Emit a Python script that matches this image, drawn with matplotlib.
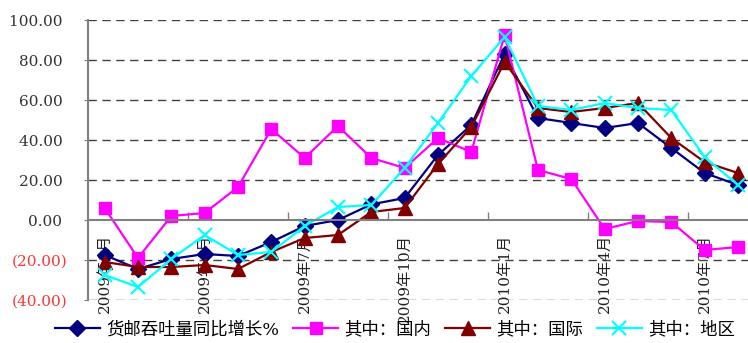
import matplotlib
matplotlib.use("Agg")
import matplotlib.pyplot as plt
from matplotlib.lines import Line2D

# Monthly series, Jan 2009 - Aug 2010 (year-on-year growth, %)
months = ["2009年1月", "2009年2月", "2009年3月", "2009年4月", "2009年5月", "2009年6月",
          "2009年7月", "2009年8月", "2009年9月", "2009年10月", "2009年11月", "2009年12月",
          "2010年1月", "2010年2月", "2010年3月", "2010年4月", "2010年5月", "2010年6月",
          "2010年7月", "2010年8月"]
total = [-17.5, -24.5, -19.5, -17, -18, -11, -3, 0, 7.8, 11, 32.5, 47.5,
         83, 51, 48.5, 46, 48.5, 36, 23.5, 17.5]
domestic = [6, -19, 2, 3.5, 16.5, 45.5, 31, 47, 31, 26, 41, 34,
            92.5, 25, 20.5, -4.5, -0.5, -1, -15, -13.5]
international = [-21, -23.5, -23.5, -22.5, -24.5, -16, -9, -7.5, 4, 6, 28, 46.5,
                 79, 56, 54, 56, 58.5, 41, 29, 23.5]
regional = [-27.5, -33.5, -19.5, -7.5, -17.5, -16, -3, 6.5, 7.5, 26, 48.5, 72,
            91.5, 57, 55, 58.5, 56, 55, 31.5, 17.5]
series_names = ["货邮吞吐量同比增长%", "其中：国内", "其中：国际", "其中：地区"]
y_ticks = [100, 80, 60, 40, 20, 0, -20, -40]

num_font = "DejaVu Serif"
mixed_font = ["DejaVu Serif", "Noto Sans CJK SC"]

W, H = 748, 343
fig = plt.figure(figsize=(W / 100, H / 100), dpi=100)
left_px, top_px, bottom_px = 88, 20, 300
cat_w = 33.33
ax = fig.add_axes([left_px / W, (H - bottom_px) / H,
                   cat_w * len(months) / W, (bottom_px - top_px) / H])

x = list(range(len(months)))
styles = [
    dict(color="#000080", marker="D", markersize=8),
    dict(color="#FF00FF", marker="s", markersize=9),
    dict(color="#800000", marker="^", markersize=10),
    dict(color="#00FFFF", marker="x", markersize=10, markeredgewidth=1.5),
]
data = [total, domestic, international, regional]
handles = []
for vals, st, name in zip(data, styles, series_names):
    ln, = ax.plot(x, vals, linewidth=1.6, label=name, clip_on=False, **st)
    handles.append(ln)

ax.set_xlim(-0.5, len(months) - 0.5)
ax.set_ylim(-40, 100)

# y axis: grid + accounting-style labels
ax.set_yticks(y_ticks)
labels = []
for v in y_ticks:
    if v < 0:
        labels.append(f"({abs(v):.2f})")
    else:
        labels.append(f"{v:.2f} ")
ax.set_yticklabels(labels, fontfamily=num_font, fontsize=11)
for lbl, v in zip(ax.get_yticklabels(), y_ticks):
    lbl.set_color("#FF3333" if v < 0 else "#333333")
ax.tick_params(axis="y", length=3, color="#808080", pad=12)
for v in y_ticks:
    if v != 0:
        ax.axhline(v, color="#404040", linestyle=(0, (6, 4)), linewidth=1, zorder=0)

# category axis crossing at zero
for s in ["top", "right"]:
    ax.spines[s].set_visible(False)
ax.spines["left"].set_color("#808080")
ax.spines["left"].set_linewidth(1.5)
ax.spines["bottom"].set_position(("data", 0))
ax.spines["bottom"].set_color("#808080")
ax.spines["bottom"].set_linewidth(1.5)

label_idx = list(range(0, len(months), 3))
ax.set_xticks(label_idx)
ax.set_xticklabels([months[i] for i in label_idx], rotation=90,
                   fontfamily=mixed_font, fontsize=11, color="#222222")
ax.tick_params(axis="x", which="major", length=0, pad=10)
ax.set_xticks([i + 2.5 for i in range(0, len(months) - 3, 3)], minor=True)
ax.tick_params(axis="x", which="minor", length=6, direction="in", color="#808080", width=1)

fig.legend(handles=handles, labels=series_names, loc="center", ncol=4,
           bbox_to_anchor=(0.528, 0.038), frameon=False,
           prop={"family": ["DejaVu Serif", "Noto Sans CJK SC"], "size": 12.5},
           handlelength=2.6, handletextpad=0.35, columnspacing=0.8)

fig.savefig("out.png", dpi=100)
